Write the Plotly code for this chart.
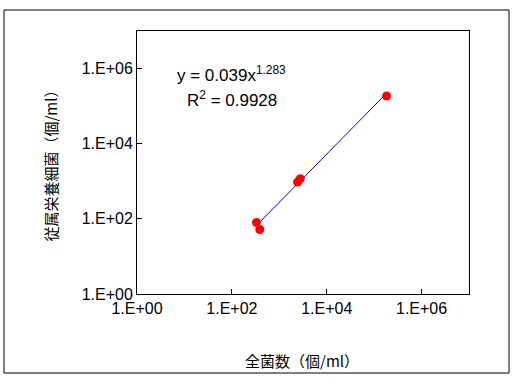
import numpy as np
import plotly.graph_objects as go

# Data
total_counts = [330, 388, 2775, 2430, 183000]          # 全菌数 (個/ml)
hetero_counts = [80, 52, 1170, 950, 186000]            # 従属栄養細菌 (個/ml)

# Power trendline coefficients (from the chart label)
coef_a = 0.039
coef_b = 1.283
r_squared = 0.9928

tick_vals = [1, 1e2, 1e4, 1e6]
tick_text = ["1.E+00", "1.E+02", "1.E+04", "1.E+06"]

x_title = "全菌数（個/ml）"
y_title = "従属栄養細菌（個/ml）"

tick_font = dict(family="Liberation Sans Narrow, Liberation Sans, Arial", size=16, color="black")
jp_font = dict(family="Noto Sans CJK JP", size=15, color="black")

fig = go.Figure()

# trendline across the data range
tx = np.logspace(np.log10(min(total_counts)), np.log10(max(total_counts)), 50)
ty = coef_a * tx ** coef_b
fig.add_trace(go.Scatter(x=tx, y=ty, mode="lines",
                         line=dict(color="#0000ff", width=1), hoverinfo="skip"))

fig.add_trace(go.Scatter(x=total_counts, y=hetero_counts, mode="markers",
                         marker=dict(color="#ff0000", size=9, line=dict(width=0))))

axis_common = dict(type="log", range=[0, 7], tickvals=tick_vals, ticktext=tick_text,
                   ticks="inside", ticklen=5, tickcolor="black", tickwidth=1,
                   showline=True, linecolor="black", linewidth=1, mirror=True,
                   showgrid=False, zeroline=False, tickfont=tick_font)

fig.update_xaxes(**axis_common)
fig.update_yaxes(**axis_common)

fig.update_layout(
    width=516, height=384,
    margin=dict(l=137, r=47, t=31, b=90),
    paper_bgcolor="white", plot_bgcolor="white",
    showlegend=False,
    shapes=[dict(type="rect", xref="paper", yref="paper",
                 x0=-0.4006, x1=1.1205, y0=-0.3004, y1=1.0798,
                 line=dict(color="black", width=1), fillcolor="rgba(0,0,0,0)", layer="below")],
    annotations=[
        dict(text=f"y = {coef_a}x<sup>{coef_b}</sup>", xref="paper", yref="paper",
             x=0.114, y=0.835, xanchor="left", yanchor="middle", showarrow=False,
             font=dict(family="Liberation Sans Narrow, Liberation Sans, Arial", size=17, color="black")),
        dict(text=f"R<sup>2</sup> = {r_squared}", xref="paper", yref="paper",
             x=0.144, y=0.74, xanchor="left", yanchor="middle", showarrow=False,
             font=dict(family="Liberation Sans Narrow, Liberation Sans, Arial", size=17, color="black")),
        dict(text=x_title, xref="paper", yref="paper", x=0.497, y=-0.251,
             xanchor="center", yanchor="middle", showarrow=False, font=jp_font),
        dict(text=y_title, xref="paper", yref="paper", x=-0.262, y=0.5,
             xanchor="center", yanchor="middle", showarrow=False, textangle=-90, font=jp_font),
    ],
)

fig.write_html("out.html", config={"displayModeBar": False},
               post_script="document.body.style.margin='0px';")
